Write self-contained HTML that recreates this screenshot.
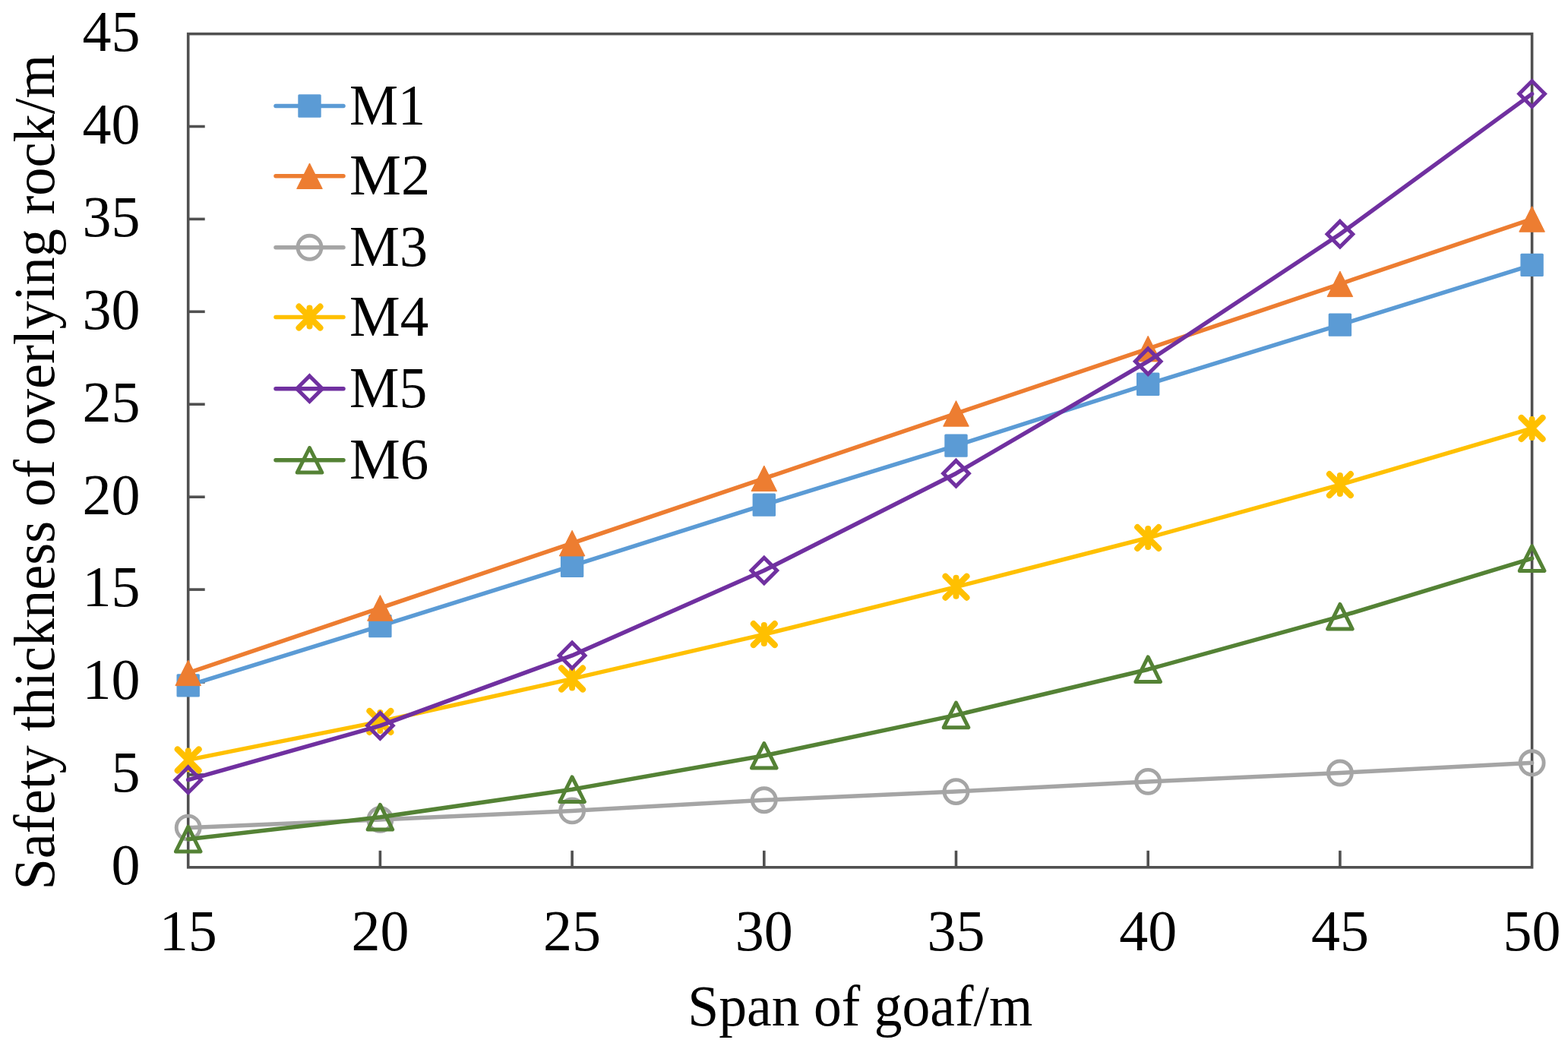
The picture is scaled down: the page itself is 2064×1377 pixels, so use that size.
<!DOCTYPE html>
<html><head><meta charset="utf-8"><title>Safety thickness chart</title>
<style>html,body{margin:0;padding:0;background:#fff;}svg{display:block;filter:blur(0.6px);}</style>
</head><body>
<svg width="2064" height="1377" viewBox="0 0 2064 1377">
<rect width="2064" height="1377" fill="#fff"/>
<rect x="247.7" y="44.6" width="1768.9" height="1097.2" fill="none" stroke="#505050" stroke-width="3.6"/>
<line x1="247.7" y1="1019.9" x2="269.7" y2="1019.9" stroke="#505050" stroke-width="3.6"/>
<line x1="247.7" y1="898.0" x2="269.7" y2="898.0" stroke="#505050" stroke-width="3.6"/>
<line x1="247.7" y1="776.1" x2="269.7" y2="776.1" stroke="#505050" stroke-width="3.6"/>
<line x1="247.7" y1="654.2" x2="269.7" y2="654.2" stroke="#505050" stroke-width="3.6"/>
<line x1="247.7" y1="532.2" x2="269.7" y2="532.2" stroke="#505050" stroke-width="3.6"/>
<line x1="247.7" y1="410.3" x2="269.7" y2="410.3" stroke="#505050" stroke-width="3.6"/>
<line x1="247.7" y1="288.4" x2="269.7" y2="288.4" stroke="#505050" stroke-width="3.6"/>
<line x1="247.7" y1="166.5" x2="269.7" y2="166.5" stroke="#505050" stroke-width="3.6"/>
<line x1="500.4" y1="1141.8" x2="500.4" y2="1119.8" stroke="#505050" stroke-width="3.6"/>
<line x1="753.1" y1="1141.8" x2="753.1" y2="1119.8" stroke="#505050" stroke-width="3.6"/>
<line x1="1005.8" y1="1141.8" x2="1005.8" y2="1119.8" stroke="#505050" stroke-width="3.6"/>
<line x1="1258.5" y1="1141.8" x2="1258.5" y2="1119.8" stroke="#505050" stroke-width="3.6"/>
<line x1="1511.2" y1="1141.8" x2="1511.2" y2="1119.8" stroke="#505050" stroke-width="3.6"/>
<line x1="1763.9" y1="1141.8" x2="1763.9" y2="1119.8" stroke="#505050" stroke-width="3.6"/>
<polyline points="247.7,902.4 500.4,824.1 753.1,744.9 1005.8,664.6 1258.5,586.6 1511.2,505.7 1763.9,427.6 2016.6,348.9" fill="none" stroke="#5B9BD5" stroke-width="5.5" stroke-linejoin="round" stroke-linecap="round"/>
<rect x="232.5" y="887.2" width="30.4" height="30.4" rx="1.5" fill="#5B9BD5"/>
<rect x="485.2" y="808.9" width="30.4" height="30.4" rx="1.5" fill="#5B9BD5"/>
<rect x="737.9" y="729.7" width="30.4" height="30.4" rx="1.5" fill="#5B9BD5"/>
<rect x="990.6" y="649.4" width="30.4" height="30.4" rx="1.5" fill="#5B9BD5"/>
<rect x="1243.3" y="571.4" width="30.4" height="30.4" rx="1.5" fill="#5B9BD5"/>
<rect x="1496.0" y="490.5" width="30.4" height="30.4" rx="1.5" fill="#5B9BD5"/>
<rect x="1748.7" y="412.4" width="30.4" height="30.4" rx="1.5" fill="#5B9BD5"/>
<rect x="2001.4" y="333.7" width="30.4" height="30.4" rx="1.5" fill="#5B9BD5"/>
<polyline points="247.7,885.8 500.4,800.4 753.1,715.1 1005.8,629.8 1258.5,544.4 1511.2,459.1 1763.9,373.8 2016.6,288.4" fill="none" stroke="#ED7D31" stroke-width="5.5" stroke-linejoin="round" stroke-linecap="round"/>
<polygon points="247.7,869.0 264.5,902.6 230.9,902.6" fill="#ED7D31" stroke="#ED7D31" stroke-width="1" stroke-linejoin="round"/>
<polygon points="500.4,783.6 517.2,817.2 483.6,817.2" fill="#ED7D31" stroke="#ED7D31" stroke-width="1" stroke-linejoin="round"/>
<polygon points="753.1,698.3 769.9,731.9 736.3,731.9" fill="#ED7D31" stroke="#ED7D31" stroke-width="1" stroke-linejoin="round"/>
<polygon points="1005.8,613.0 1022.6,646.6 989.0,646.6" fill="#ED7D31" stroke="#ED7D31" stroke-width="1" stroke-linejoin="round"/>
<polygon points="1258.5,527.6 1275.3,561.2 1241.7,561.2" fill="#ED7D31" stroke="#ED7D31" stroke-width="1" stroke-linejoin="round"/>
<polygon points="1511.2,442.3 1528.0,475.9 1494.4,475.9" fill="#ED7D31" stroke="#ED7D31" stroke-width="1" stroke-linejoin="round"/>
<polygon points="1763.9,357.0 1780.7,390.6 1747.1,390.6" fill="#ED7D31" stroke="#ED7D31" stroke-width="1" stroke-linejoin="round"/>
<polygon points="2016.6,271.6 2033.4,305.2 1999.8,305.2" fill="#ED7D31" stroke="#ED7D31" stroke-width="1" stroke-linejoin="round"/>
<polyline points="247.7,1089.6 500.4,1078.9 753.1,1067.4 1005.8,1053.3 1258.5,1042.1 1511.2,1028.9 1763.9,1017.5 2016.6,1004.3" fill="none" stroke="#A5A5A5" stroke-width="5.5" stroke-linejoin="round" stroke-linecap="round"/>
<circle cx="247.7" cy="1089.6" r="15.5" fill="none" stroke="#A5A5A5" stroke-width="4.9"/>
<circle cx="500.4" cy="1078.9" r="15.5" fill="none" stroke="#A5A5A5" stroke-width="4.9"/>
<circle cx="753.1" cy="1067.4" r="15.5" fill="none" stroke="#A5A5A5" stroke-width="4.9"/>
<circle cx="1005.8" cy="1053.3" r="15.5" fill="none" stroke="#A5A5A5" stroke-width="4.9"/>
<circle cx="1258.5" cy="1042.1" r="15.5" fill="none" stroke="#A5A5A5" stroke-width="4.9"/>
<circle cx="1511.2" cy="1028.9" r="15.5" fill="none" stroke="#A5A5A5" stroke-width="4.9"/>
<circle cx="1763.9" cy="1017.5" r="15.5" fill="none" stroke="#A5A5A5" stroke-width="4.9"/>
<circle cx="2016.6" cy="1004.3" r="15.5" fill="none" stroke="#A5A5A5" stroke-width="4.9"/>
<polyline points="247.7,1000.4 500.4,949.9 753.1,893.6 1005.8,835.1 1258.5,772.7 1511.2,708.0 1763.9,638.1 2016.6,563.9" fill="none" stroke="#FFC000" stroke-width="5.5" stroke-linejoin="round" stroke-linecap="round"/>
<path d="M233.7,986.4L261.7,1014.4M261.7,986.4L233.7,1014.4M247.7,988.4L247.7,1012.4" fill="none" stroke="#FFC000" stroke-width="8" stroke-linecap="round"/>
<path d="M486.4,935.9L514.4,963.9M514.4,935.9L486.4,963.9M500.4,937.9L500.4,961.9" fill="none" stroke="#FFC000" stroke-width="8" stroke-linecap="round"/>
<path d="M739.1,879.6L767.1,907.6M767.1,879.6L739.1,907.6M753.1,881.6L753.1,905.6" fill="none" stroke="#FFC000" stroke-width="8" stroke-linecap="round"/>
<path d="M991.8,821.1L1019.8,849.1M1019.8,821.1L991.8,849.1M1005.8,823.1L1005.8,847.1" fill="none" stroke="#FFC000" stroke-width="8" stroke-linecap="round"/>
<path d="M1244.5,758.7L1272.5,786.7M1272.5,758.7L1244.5,786.7M1258.5,760.7L1258.5,784.7" fill="none" stroke="#FFC000" stroke-width="8" stroke-linecap="round"/>
<path d="M1497.2,694.0L1525.2,722.0M1525.2,694.0L1497.2,722.0M1511.2,696.0L1511.2,720.0" fill="none" stroke="#FFC000" stroke-width="8" stroke-linecap="round"/>
<path d="M1749.9,624.1L1777.9,652.1M1777.9,624.1L1749.9,652.1M1763.9,626.1L1763.9,650.1" fill="none" stroke="#FFC000" stroke-width="8" stroke-linecap="round"/>
<path d="M2002.6,549.9L2030.6,577.9M2030.6,549.9L2002.6,577.9M2016.6,551.9L2016.6,575.9" fill="none" stroke="#FFC000" stroke-width="8" stroke-linecap="round"/>
<polyline points="247.7,1026.7 500.4,955.3 753.1,862.9 1005.8,751.0 1258.5,623.2 1511.2,475.7 1763.9,308.2 2016.6,123.6" fill="none" stroke="#7030A0" stroke-width="5.5" stroke-linejoin="round" stroke-linecap="round"/>
<polygon points="247.7,1009.9 264.5,1026.7 247.7,1043.5 230.9,1026.7" fill="none" stroke="#7030A0" stroke-width="5" stroke-linejoin="miter"/>
<polygon points="500.4,938.5 517.2,955.3 500.4,972.1 483.6,955.3" fill="none" stroke="#7030A0" stroke-width="5" stroke-linejoin="miter"/>
<polygon points="753.1,846.1 769.9,862.9 753.1,879.7 736.3,862.9" fill="none" stroke="#7030A0" stroke-width="5" stroke-linejoin="miter"/>
<polygon points="1005.8,734.2 1022.6,751.0 1005.8,767.8 989.0,751.0" fill="none" stroke="#7030A0" stroke-width="5" stroke-linejoin="miter"/>
<polygon points="1258.5,606.4 1275.3,623.2 1258.5,640.0 1241.7,623.2" fill="none" stroke="#7030A0" stroke-width="5" stroke-linejoin="miter"/>
<polygon points="1511.2,458.9 1528.0,475.7 1511.2,492.5 1494.4,475.7" fill="none" stroke="#7030A0" stroke-width="5" stroke-linejoin="miter"/>
<polygon points="1763.9,291.4 1780.7,308.2 1763.9,325.0 1747.1,308.2" fill="none" stroke="#7030A0" stroke-width="5" stroke-linejoin="miter"/>
<polygon points="2016.6,106.8 2033.4,123.6 2016.6,140.4 1999.8,123.6" fill="none" stroke="#7030A0" stroke-width="5" stroke-linejoin="miter"/>
<polyline points="247.7,1104.7 500.4,1075.7 753.1,1039.2 1005.8,994.8 1258.5,941.4 1511.2,881.2 1763.9,811.7 2016.6,735.1" fill="none" stroke="#548235" stroke-width="5.5" stroke-linejoin="round" stroke-linecap="round"/>
<polygon points="247.7,1088.4 264.0,1121.0 231.4,1121.0" fill="none" stroke="#548235" stroke-width="5" stroke-linejoin="round"/>
<polygon points="500.4,1059.4 516.7,1092.0 484.1,1092.0" fill="none" stroke="#548235" stroke-width="5" stroke-linejoin="round"/>
<polygon points="753.1,1022.9 769.4,1055.5 736.8,1055.5" fill="none" stroke="#548235" stroke-width="5" stroke-linejoin="round"/>
<polygon points="1005.8,978.5 1022.1,1011.1 989.5,1011.1" fill="none" stroke="#548235" stroke-width="5" stroke-linejoin="round"/>
<polygon points="1258.5,925.1 1274.8,957.7 1242.2,957.7" fill="none" stroke="#548235" stroke-width="5" stroke-linejoin="round"/>
<polygon points="1511.2,864.9 1527.5,897.5 1494.9,897.5" fill="none" stroke="#548235" stroke-width="5" stroke-linejoin="round"/>
<polygon points="1763.9,795.4 1780.2,828.0 1747.6,828.0" fill="none" stroke="#548235" stroke-width="5" stroke-linejoin="round"/>
<polygon points="2016.6,718.8 2032.9,751.4 2000.3,751.4" fill="none" stroke="#548235" stroke-width="5" stroke-linejoin="round"/>
<g style="font-family:'Liberation Serif',serif;font-size:76px" fill="#000">
<text x="184.5" y="1164.1" text-anchor="end">0</text>
<text x="184.5" y="1042.2" text-anchor="end">5</text>
<text x="184.5" y="920.3" text-anchor="end">10</text>
<text x="184.5" y="798.4" text-anchor="end">15</text>
<text x="184.5" y="676.5" text-anchor="end">20</text>
<text x="184.5" y="554.5" text-anchor="end">25</text>
<text x="184.5" y="432.6" text-anchor="end">30</text>
<text x="184.5" y="310.7" text-anchor="end">35</text>
<text x="184.5" y="188.8" text-anchor="end">40</text>
<text x="184.5" y="66.9" text-anchor="end">45</text>
<text x="247.7" y="1250.5" text-anchor="middle">15</text>
<text x="500.4" y="1250.5" text-anchor="middle">20</text>
<text x="753.1" y="1250.5" text-anchor="middle">25</text>
<text x="1005.8" y="1250.5" text-anchor="middle">30</text>
<text x="1258.5" y="1250.5" text-anchor="middle">35</text>
<text x="1511.2" y="1250.5" text-anchor="middle">40</text>
<text x="1763.9" y="1250.5" text-anchor="middle">45</text>
<text x="2016.6" y="1250.5" text-anchor="middle">50</text>
</g>
<text x="1132.3" y="1350" text-anchor="middle" style="font-family:'Liberation Serif',serif;font-size:76px" textLength="454" lengthAdjust="spacingAndGlyphs">Span of goaf/m</text>
<text transform="translate(70.5,621.6) rotate(-90)" text-anchor="middle" style="font-family:'Liberation Serif',serif;font-size:76px" textLength="1100" lengthAdjust="spacingAndGlyphs">Safety thickness of overlying rock/m</text>
<line x1="363" y1="139.5" x2="452" y2="139.5" stroke="#5B9BD5" stroke-width="5.5" stroke-linecap="round"/>
<rect x="392.3" y="124.3" width="30.4" height="30.4" rx="1.5" fill="#5B9BD5"/>
<text x="460" y="163.5" style="font-family:'Liberation Serif',serif;font-size:76px" textLength="100.1" lengthAdjust="spacingAndGlyphs">M1</text>
<line x1="363" y1="231.7" x2="452" y2="231.7" stroke="#ED7D31" stroke-width="5.5" stroke-linecap="round"/>
<polygon points="407.5,214.9 424.3,248.5 390.7,248.5" fill="#ED7D31" stroke="#ED7D31" stroke-width="1" stroke-linejoin="round"/>
<text x="460" y="255.7" style="font-family:'Liberation Serif',serif;font-size:76px" textLength="106.2" lengthAdjust="spacingAndGlyphs">M2</text>
<line x1="363" y1="325.7" x2="452" y2="325.7" stroke="#A5A5A5" stroke-width="5.5" stroke-linecap="round"/>
<circle cx="407.5" cy="325.7" r="15.5" fill="none" stroke="#A5A5A5" stroke-width="4.9"/>
<text x="460" y="349.7" style="font-family:'Liberation Serif',serif;font-size:76px" textLength="103" lengthAdjust="spacingAndGlyphs">M3</text>
<line x1="363" y1="417.6" x2="452" y2="417.6" stroke="#FFC000" stroke-width="5.5" stroke-linecap="round"/>
<path d="M393.5,403.6L421.5,431.6M421.5,403.6L393.5,431.6M407.5,405.6L407.5,429.6" fill="none" stroke="#FFC000" stroke-width="8" stroke-linecap="round"/>
<text x="460" y="441.6" style="font-family:'Liberation Serif',serif;font-size:76px" textLength="104.1" lengthAdjust="spacingAndGlyphs">M4</text>
<line x1="363" y1="511.7" x2="452" y2="511.7" stroke="#7030A0" stroke-width="5.5" stroke-linecap="round"/>
<polygon points="407.5,494.9 424.3,511.7 407.5,528.5 390.7,511.7" fill="none" stroke="#7030A0" stroke-width="5" stroke-linejoin="miter"/>
<text x="460" y="535.7" style="font-family:'Liberation Serif',serif;font-size:76px" textLength="102.2" lengthAdjust="spacingAndGlyphs">M5</text>
<line x1="363" y1="605.8" x2="452" y2="605.8" stroke="#548235" stroke-width="5.5" stroke-linecap="round"/>
<polygon points="407.5,589.5 423.8,622.1 391.2,622.1" fill="none" stroke="#548235" stroke-width="5" stroke-linejoin="round"/>
<text x="460" y="629.8" style="font-family:'Liberation Serif',serif;font-size:76px" textLength="104.2" lengthAdjust="spacingAndGlyphs">M6</text>
</svg>
</body></html>
